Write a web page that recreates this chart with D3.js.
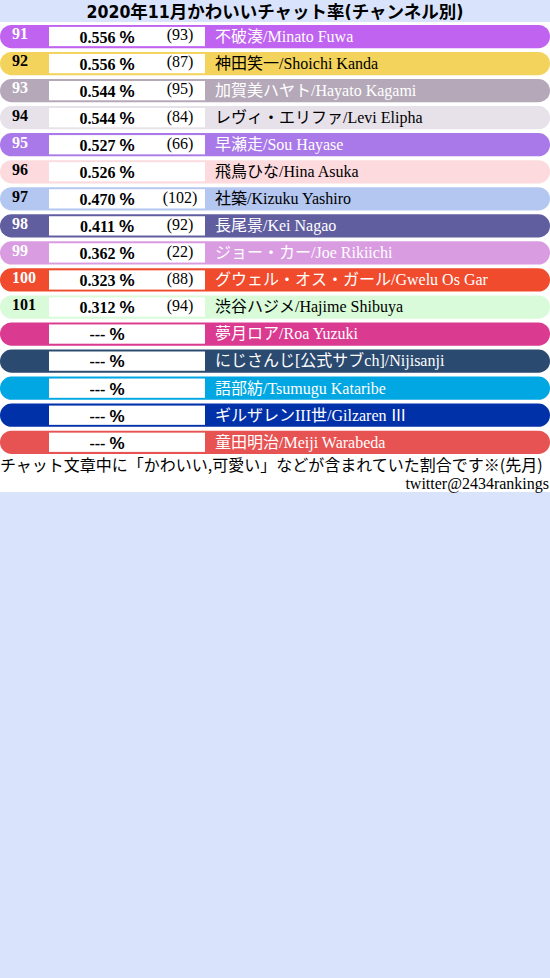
<!DOCTYPE html>
<html>
<head>
<meta charset="utf-8">
<script src="https://cdn.jsdelivr.net/npm/d3@7"></script>
<style>
  html, body { margin: 0; padding: 0; background: #d9e4fc; }
  svg { display: block; }
</style>
</head>
<body>
<div id="chart"></div>
<script>
const title = '2020年11月かわいいチャット率(チャンネル別)';
const ranks = ['91', '92', '93', '94', '95', '96', '97', '98', '99', '100', '101', '', '', '', '', ''];
const rates = ['0.556', '0.556', '0.544', '0.544', '0.527', '0.526', '0.470', '0.411', '0.362', '0.323', '0.312', '---', '---', '---', '---', '---'];
const counts = ['(93)', '(87)', '(95)', '(84)', '(66)', '', '(102)', '(92)', '(22)', '(88)', '(94)', '', '', '', '', ''];
const names = [
  '不破湊/Minato Fuwa', '神田笑一/Shoichi Kanda', '加賀美ハヤト/Hayato Kagami', 'レヴィ・エリファ/Levi Elipha',
  '早瀬走/Sou Hayase', '飛鳥ひな/Hina Asuka', '社築/Kizuku Yashiro', '長尾景/Kei Nagao',
  'ジョー・カー/Joe Rikiichi', 'グウェル・オス・ガール/Gwelu Os Gar', '渋谷ハジメ/Hajime Shibuya', '夢月ロア/Roa Yuzuki',
  'にじさんじ[公式サブch]/Nijisanji', '語部紡/Tsumugu Kataribe', 'ギルザレンIII世/Gilzaren Ⅲ', '童田明治/Meiji Warabeda'
];
const channelColors = [
  '#c063f0', '#f3d35b', '#b5a9b9', '#e7e1ea', '#a978e9', '#fcdade', '#b4c7f1', '#615ea0',
  '#d99ce1', '#f04b2d', '#d9fbd9', '#da3a8f', '#2b4a70', '#00a7e3', '#0031a9', '#e75252'
];
const note = 'チャット文章中に「かわいい,可愛い」などが含まれていた割合です※(先月)';
const credit = 'twitter@2434rankings';

const width = 550, height = 978;
const listTop = 23, rowPitch = 27.05;
const rows = names.map((n, i) => ({ rank: ranks[i], rate: rates[i], count: counts[i], name: n }));

const svg = d3.select('#chart').append('svg').attr('width', width).attr('height', height);

const y = d3.scaleBand().domain(d3.range(rows.length))
  .range([listTop, listTop + rowPitch * rows.length]).paddingInner(0.14).paddingOuter(0.07);
const color = d3.scaleOrdinal(names, channelColors);
const ink = (c) => (d3.lab(c).l > 76 ? '#000' : '#fff');

// ascii runs in serif, everything else in the CJK face
const runs = (s) => s.match(/[\x00-\x7f]+|[^\x00-\x7f]+/g) || [];

// white sheet behind rows and footer
svg.append('rect').attr('x', 0).attr('y', 22).attr('width', width).attr('height', 470).attr('fill', '#fff');

svg.append('text').attr('x', width / 2).attr('y', 18).attr('text-anchor', 'middle')
  .attr('font-family', '"DejaVu Sans Condensed", "Noto Sans CJK JP", sans-serif')
  .attr('font-weight', 700).attr('font-size', 17.5).attr('fill', '#000').text(title);

const row = svg.selectAll('g.row').data(rows).join('g').attr('class', 'row')
  .attr('transform', (d, i) => `translate(0,${y(i)})`);
const bh = y.bandwidth();

row.append('rect').attr('x', 0).attr('width', width).attr('height', bh)
  .attr('rx', bh / 2).attr('fill', (d) => color(d.name));
row.append('rect').attr('x', 49).attr('y', 2).attr('width', 156).attr('height', bh - 4).attr('fill', '#fff');

row.append('text').attr('x', 12).attr('y', 14.5)
  .attr('font-family', '"Liberation Serif", serif').attr('font-weight', 700).attr('font-size', 16)
  .attr('fill', (d) => ink(color(d.name))).text((d) => d.rank);

const pct = row.append('text').attr('x', 107).attr('y', 18).attr('text-anchor', 'middle')
  .attr('font-weight', 700).attr('font-size', 16).attr('fill', '#000');
pct.append('tspan').attr('font-family', '"Liberation Serif", serif').text((d) => d.rate + ' ');
pct.append('tspan').attr('font-family', '"Liberation Sans", sans-serif').attr('font-size', 17).text('%');

row.append('text').attr('x', 180).attr('y', 15.5).attr('text-anchor', 'middle')
  .attr('font-family', '"Liberation Serif", serif').attr('font-size', 16).attr('fill', '#000')
  .text((d) => d.count);

row.append('text').attr('x', 215).attr('y', 17).attr('font-size', 16)
  .attr('fill', (d) => ink(color(d.name)))
  .selectAll('tspan').data((d) => runs(d.name)).join('tspan')
  .attr('font-family', (s) => (/^[\x00-\x7f]/.test(s) ? '"Liberation Serif", serif' : '"Noto Sans CJK JP", sans-serif'))
  .text((s) => s);

svg.append('text').attr('x', 0).attr('y', 471)
  .attr('font-family', '"Noto Sans CJK JP", sans-serif').attr('font-size', 16).attr('fill', '#000').text(note);
svg.append('text').attr('x', 549).attr('y', 489).attr('text-anchor', 'end')
  .attr('font-family', '"Liberation Serif", serif').attr('font-size', 16).attr('fill', '#000').text(credit);
</script>
</body>
</html>
